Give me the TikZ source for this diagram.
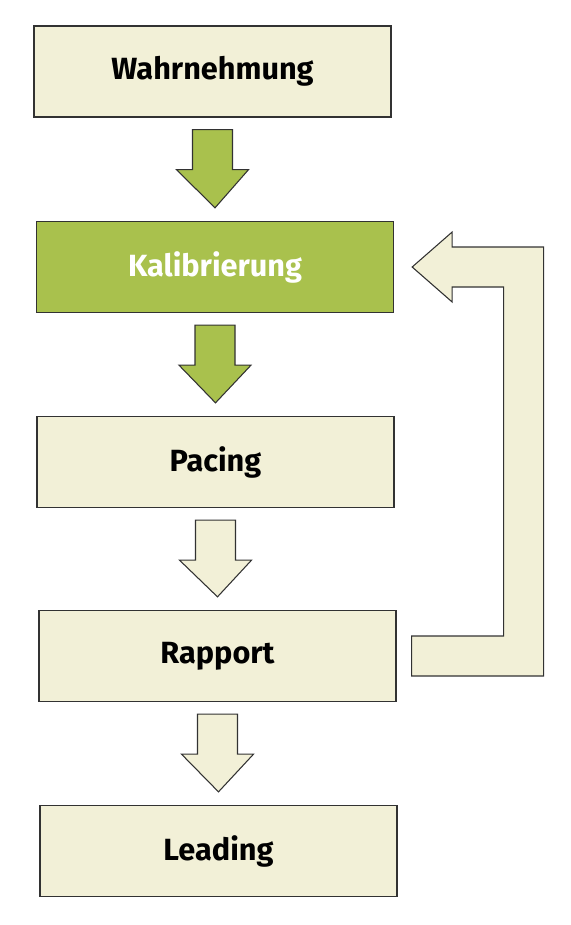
\documentclass[tikz,border=0pt]{standalone}
\usepackage{fontspec}
\setmainfont{Fira Sans}
\usepackage{tikz}
\usetikzlibrary{calc}
\usepackage{xcolor}
\definecolor{stagebeige}{RGB}{242,240,215}
\definecolor{stagegreen}{RGB}{169,193,77}
\definecolor{stageline}{RGB}{50,50,50}

\begin{document}
\begin{tikzpicture}[x=0.75pt,y=-0.75pt]
    \tikzstyle{stage}=[rectangle,draw=stageline,line width=1pt,fill=stagebeige,minimum width=267.75pt,minimum height=68.25pt,inner sep=0pt,font=\fontsize{23pt}{27pt}\selectfont\bfseries]
    \tikzstyle{flow}=[draw=stageline,line width=0.8pt,line join=miter]
    \useasboundingbox (0,0) rectangle (571,925);
    \node[stage] (w) at (212.5,71.5) {Wahrnehmung};
    \node[stage,fill=stagegreen,text=white] (k) at (215,267) {Kalibrierung};
    \node[stage] (p) at (215.5,462) {Pacing};
    \node[stage] (r) at (217.5,656) {Rapport};
    \node[stage] (l) at (218.5,851) {Leading};
    % block arrows between the stages
    \foreach \a/\b/\c in {w/k/stagegreen,k/p/stagegreen,p/r/stagebeige,r/l/stagebeige}
      \draw[flow,fill=\c] ($(\a.south)+(-20,12)$) -- ++(40,0) -- ++(0,40) -- ++(16,0)
        -- ($(\b.north)+(0,-13)$) -- ($(\a.south)+(-36,52)$) -- ++(16,0) -- cycle;
    % loop back from Rapport to Kalibrierung
    \coordinate (rin) at ($(r.east)+(15,-20)$);
    \coordinate (rout) at ($(r.east)+(15,20)$);
    \coordinate (ktip) at ($(k.east)+(18,0)$);
    \draw[flow,fill=stagebeige] (rin) -- ++(92,0) |- ($(ktip)+(40,20)$) -- ++(0,15) -- (ktip)
      -- ++(40,-35) -- ++(0,15) -| ($(rout)+(132,0)$) -- (rout) -- cycle;
\end{tikzpicture}
\end{document}
